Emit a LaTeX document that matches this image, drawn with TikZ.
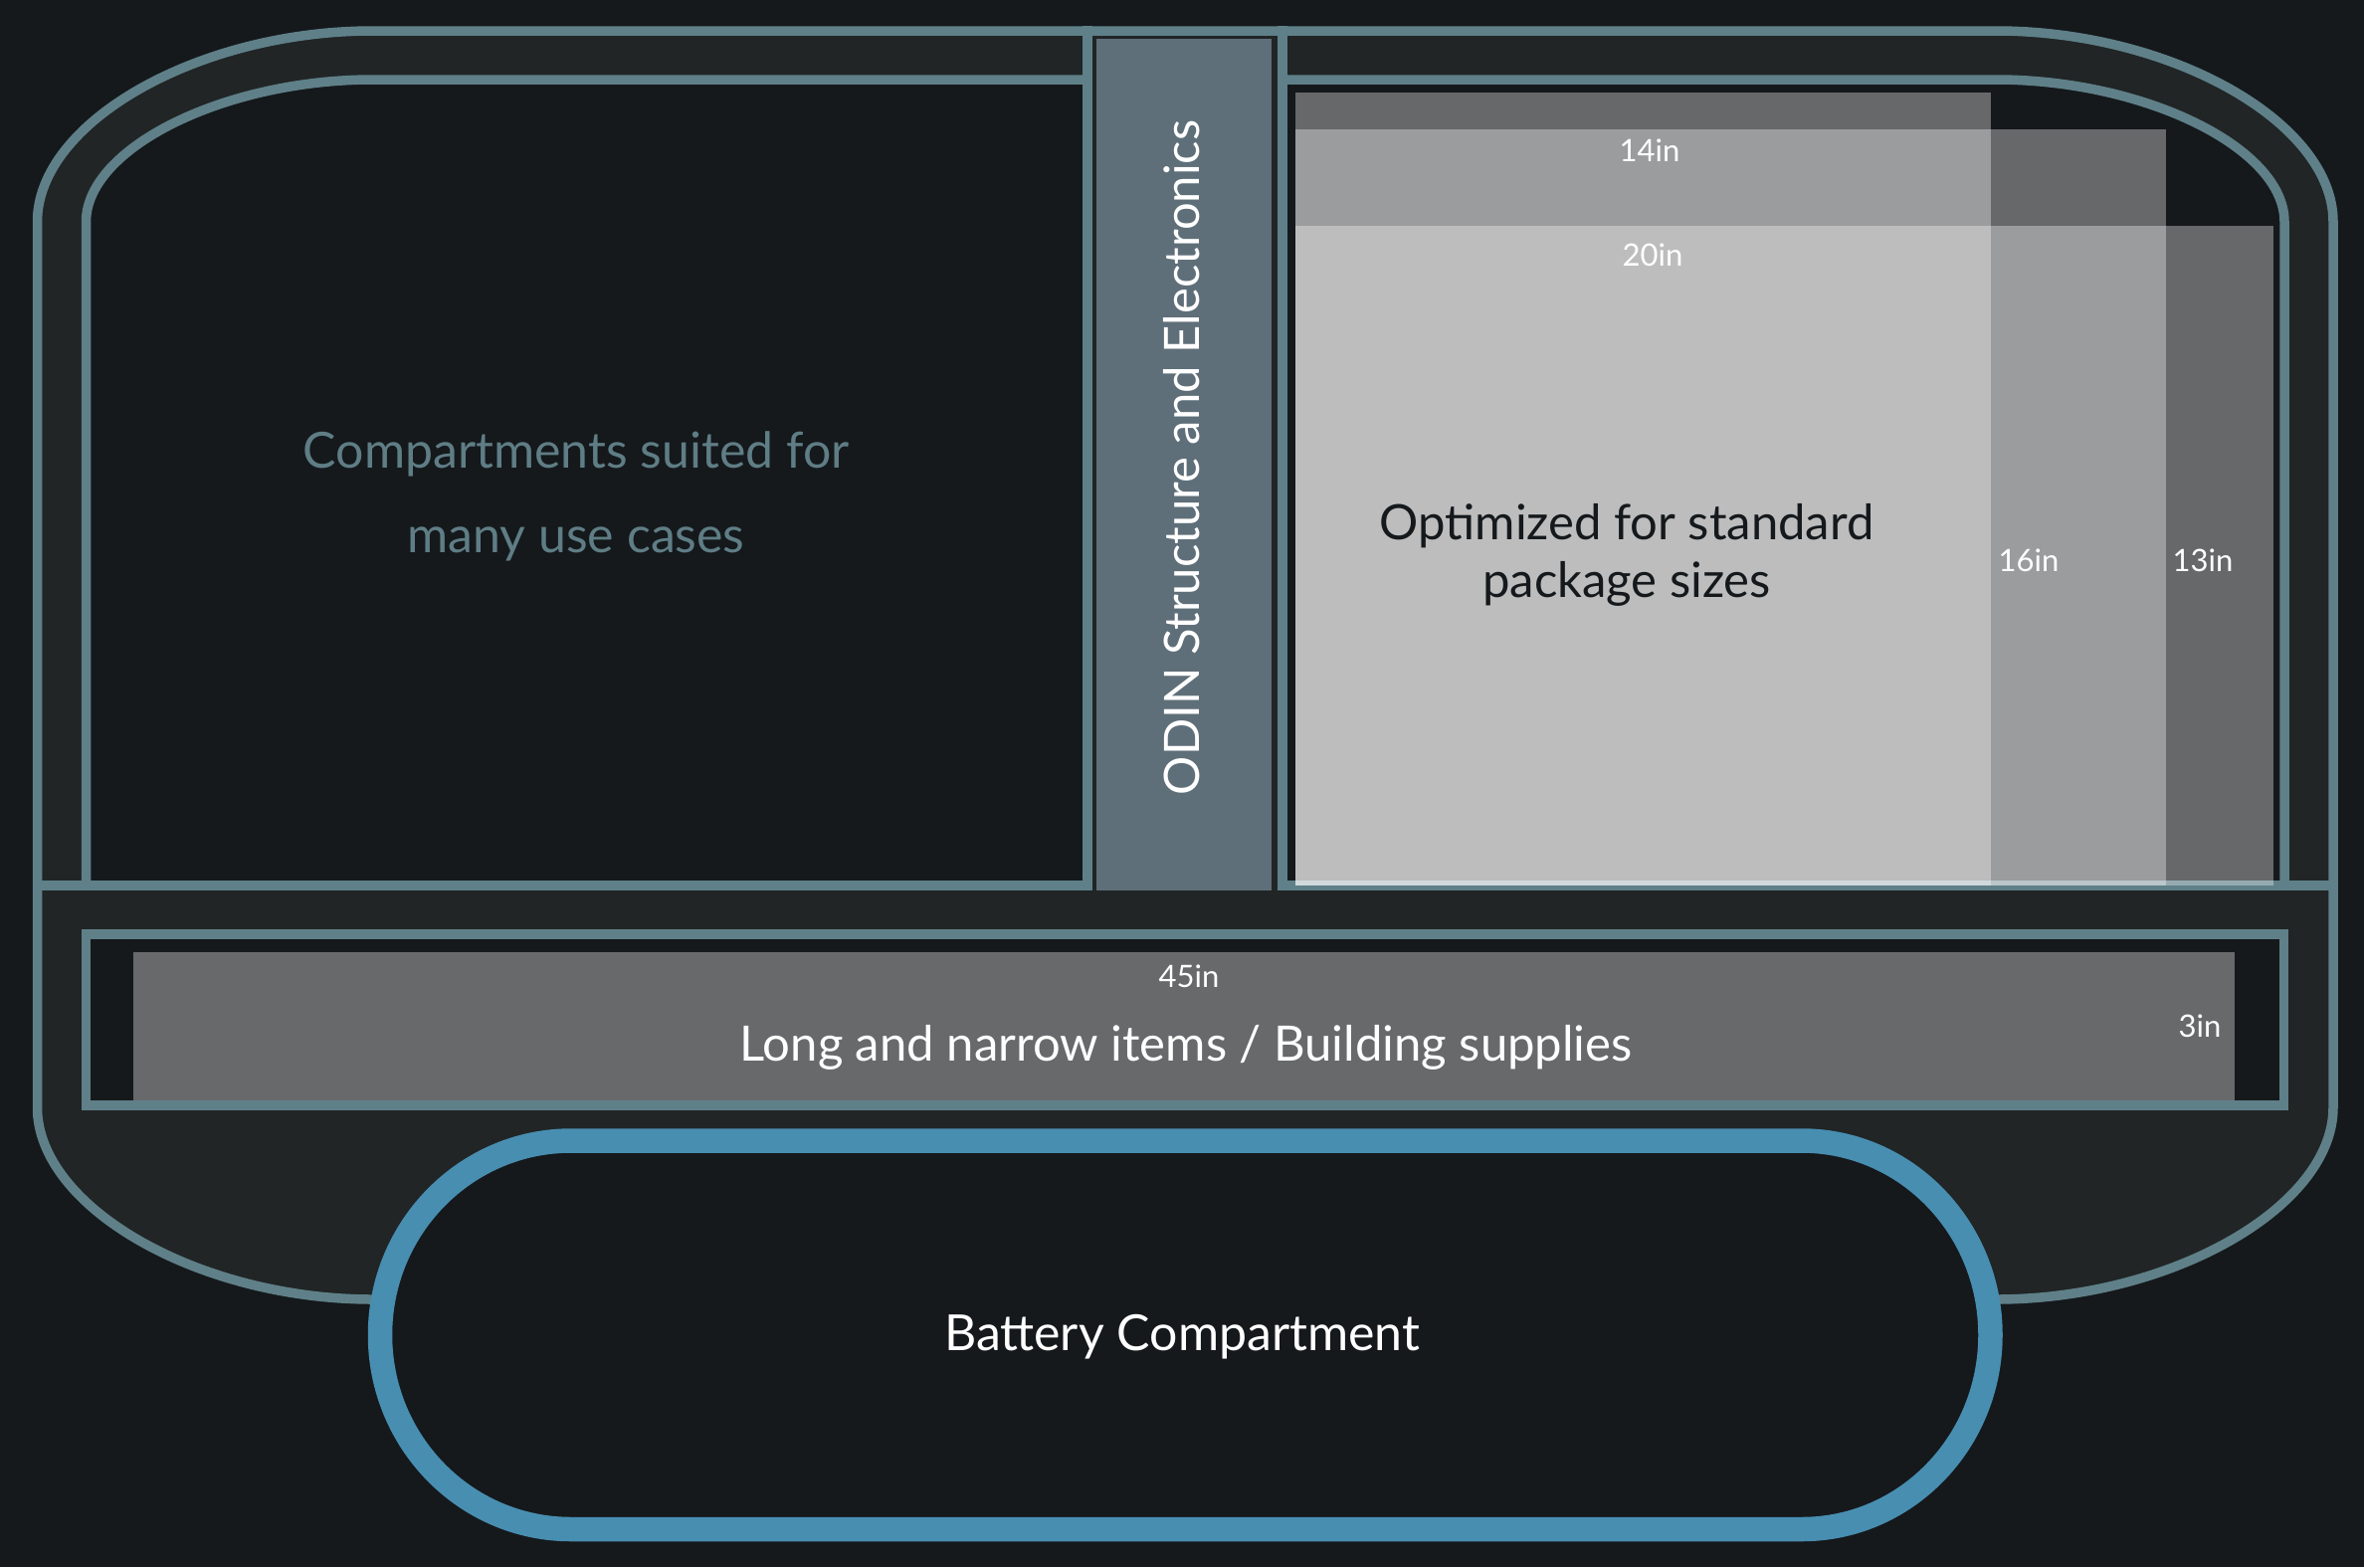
\documentclass[tikz,border=0pt]{standalone}
\usepackage{fontspec}
\setmainfont{Lato}
\usetikzlibrary{positioning}
\definecolor{bgdark}{HTML}{15191C}
\definecolor{shellgray}{HTML}{212526}
\definecolor{frameteal}{HTML}{5F8088}
\definecolor{batteryblue}{HTML}{488EB1}
\definecolor{odinslate}{HTML}{5F6F79}
\definecolor{barsgray}{HTML}{68696B}
\definecolor{softteal}{HTML}{5F7D85}
\definecolor{packwhite}{HTML}{FFFDFE}
\tikzset{
  frame/.style={draw=frameteal, line width=9.5pt},
  pack/.style={fill=packwhite, fill opacity=0.35},
  lbl/.style={inner sep=0pt, text=white, font=\fontsize{50}{50}\selectfont},
  lblsmall/.style={lbl, font=\fontsize{49}{49}\selectfont},
  dim/.style={inner sep=0pt, text=white, font=\fontsize{31}{31}\selectfont}
}

\begin{document}
\begin{tikzpicture}[x=1pt, y=-1pt]
  \useasboundingbox[fill=bgdark] (0,0) rectangle (2376,1575);
  % vehicle shell
  \draw[frame, fill=shellgray] (37.5,223) .. controls (37.5,123) and (199,31) .. (375,31)
    -- (2006,31) .. controls (2182,31) and (2345,123) .. (2345,223)
    -- (2345,1113) .. controls (2345,1213) and (2182,1306) .. (2006,1306)
    -- (375,1306) .. controls (199,1306) and (37.5,1213) .. (37.5,1113) -- cycle;
  % compartments
  \draw[frame, fill=bgdark] (1093,890) -- (86.5,890) -- (86.5,223) .. controls (86.5,149) and (225,80) .. (375,80)
    -- (1093,80) -- cycle;
  \draw[frame, fill=bgdark] (1289,890) -- (1289,80) -- (2006,80) .. controls (2156,80) and (2296,149) .. (2296,223)
    -- (2296,890) -- cycle;
  \draw[frame] (37.5,890) -- (1093,890) (1289,890) -- (2345,890);
  \draw[frame] (1093,26) -- (1093,895) (1289,26) -- (1289,895);
  \fill[odinslate] (1102,39) rectangle (1278,895);
  % package sizes
  \fill[pack] (1302,93) rectangle (2001,890);
  \fill[pack] (1302,130) rectangle (2177,890);
  \fill[pack] (1302,227) rectangle (2285,890);
  % long bay
  \draw[frame, fill=bgdark] (86.5,939) rectangle (2295.5,1111);
  \fill[barsgray] (134,957) rectangle (2246,1106);
  % battery
  \draw[draw=batteryblue, line width=24.5pt, fill=bgdark] (382,1341.75) arc[start angle=180, end angle=270, x radius=192, y radius=195.25]
    -- (1811,1146.5) arc[start angle=270, end angle=360, x radius=189.5, y radius=195.25]
    arc[start angle=0, end angle=90, x radius=189.5, y radius=195.25]
    -- (574,1537) arc[start angle=90, end angle=180, x radius=192, y radius=195.25] -- cycle;

  \node[lbl, text=softteal] (Suited) at (579,456) {Compartments suited for};
  \node[lbl, text=softteal, below=50.5pt of Suited] (UseCases) {many use cases};
  \node[lblsmall, rotate=90] (Odin) at (1188,460) {ODIN Structure and Electronics};
  \node[lblsmall, text=bgdark] (Optimized) at (1635,529) {Optimized for standard};
  \node[lblsmall, text=bgdark, below=12.5pt of Optimized] (PackSizes) {package sizes};
  \node[dim] (Dim14) at (1658,151) {14in};
  \node[dim] (Dim20) at (1661,256) {20in};
  \node[dim] (Dim16) at (2039,563) {16in};
  \node[dim] (Dim13) at (2214,563) {13in};
  \node[dim] (Dim45) at (1195,981) {45in};
  \node[dim] (Dim3) at (2211,1031) {3in};
  \node[lblsmall] (LongItems) at (1192,1052.5) {Long and narrow items / Building supplies};
  \node[lbl] (Battery) at (1188,1343.5) {Battery Compartment};
\end{tikzpicture}
\end{document}
